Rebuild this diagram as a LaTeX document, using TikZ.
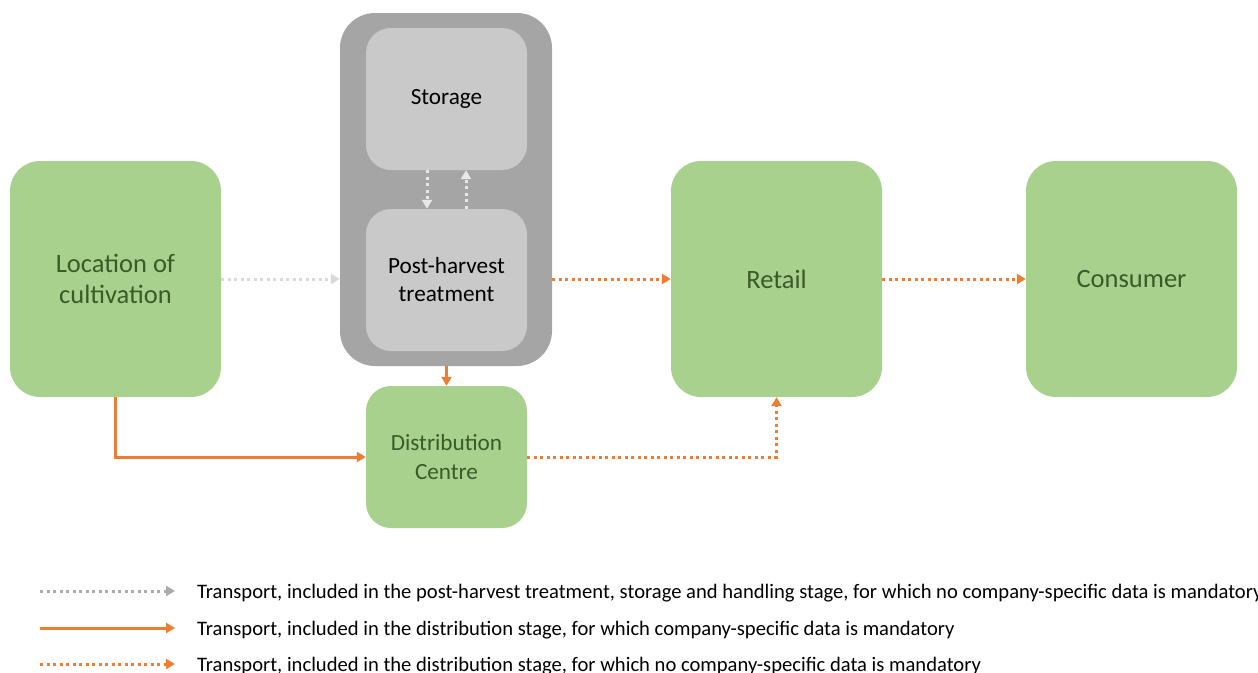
\documentclass[tikz,border=0pt]{standalone}
\usepackage{fontspec}
\setmainfont{Carlito}
\usetikzlibrary{positioning, arrows.meta, calc}
\definecolor{leafgreen}{HTML}{A9D18E}
\definecolor{darkleaf}{HTML}{3A5A27}
\definecolor{shellgray}{HTML}{A5A5A5}
\definecolor{innergray}{HTML}{C9C9C9}
\definecolor{paleline}{HTML}{D9D9D9}
\definecolor{legendgray}{HTML}{ABABAB}
\definecolor{carrot}{HTML}{ED7D31}
\tikzset{
    bigbox/.style={fill=leafgreen, rounded corners=30pt, minimum width=211pt, minimum height=236pt, text=darkleaf, align=center, font=\fontsize{26.5}{31}\selectfont},
    smallbox/.style={fill=leafgreen, rounded corners=25pt, minimum width=161pt, minimum height=142pt, text=darkleaf, align=center, font=\fontsize{23.2}{29}\selectfont},
    graybox/.style={fill=innergray, rounded corners=25pt, minimum width=161pt, minimum height=142pt, align=center, font=\fontsize{23.2}{28}\selectfont},
    shell/.style={fill=shellgray, rounded corners=35pt, minimum width=212pt, minimum height=353pt},
    tip/.style={-{Triangle[length=9pt, width=10pt]}},
    dotline/.style={tip, line width=3pt, dash pattern=on 3pt off 3.5pt},
    paletrans/.style={dotline, draw=paleline, color=paleline},
    orangetrans/.style={dotline, color=carrot},
    solidtrans/.style={tip, line width=3pt, color=carrot},
    legendtext/.style={anchor=west, inner sep=0pt, font=\fontsize{20.6}{24}\selectfont}
}
\begin{document}
\begin{tikzpicture}[x=1pt, y=-1pt, >=Latex]
    \useasboundingbox (0,0) rectangle (1258,672);
    % boxes
    \node(Location)[bigbox] at (115.5,279) {Location of\\cultivation};
    \node(Shell)[shell] at (446,189.5) {};
    \node(Storage)[graybox] at (446.5,99) {\raisebox{-3pt}{Storage}};
    \node(PostHarvest)[graybox] at (446.5,280) {Post-harvest\\treatment};
    \node(Distribution)[smallbox] at (446.5,457) {Distribution\\Centre};
    \node(Retail)[bigbox] at (776.5,279) {Retail};
    \node(Consumer)[bigbox] at (1131.5,279) {Consumer};
    % transport
    \draw[paletrans](Location.east)--(Shell.west |- Location.east);
    \draw[paletrans, color=paleline!60](Storage.south -| 427,0)--(PostHarvest.north -| 427,0);
    \draw[paletrans, color=paleline!60](PostHarvest.north -| 466,0)--(Storage.south -| 466,0);
    \draw[orangetrans](Shell.east |- Retail.west)--(Retail.west);
    \draw[orangetrans](Retail.east)--(Consumer.west);
    \draw[solidtrans](Shell.south -| Distribution.north)--(Distribution.north);
    \draw[solidtrans](Location.south)|-(Distribution.west);
    \draw[orangetrans](Distribution.east)-|(Retail.south);
    % legend
    \coordinate(PaleA) at (40,591);
    \coordinate(PaleB) at (175,591);
    \coordinate(SolidA) at (40,628);
    \coordinate(SolidB) at (175,628);
    \coordinate(OrangeA) at (40,664);
    \coordinate(OrangeB) at (175,664);
    \draw[dotline, color=legendgray](PaleA)--(PaleB);
    \draw[solidtrans](SolidA)--(SolidB);
    \draw[orangetrans](OrangeA)--(OrangeB);
    \node(PaleText)[legendtext] at (197,593) {Transport, included in the post-harvest treatment, storage and handling stage, for which no company-specific data is mandatory};
    \node(SolidText)[legendtext] at (197,630) {Transport, included in the distribution stage, for which company-specific data is mandatory};
    \node(OrangeText)[legendtext] at (197,666) {Transport, included in the distribution stage, for which no company-specific data is mandatory};
\end{tikzpicture}
\end{document}
